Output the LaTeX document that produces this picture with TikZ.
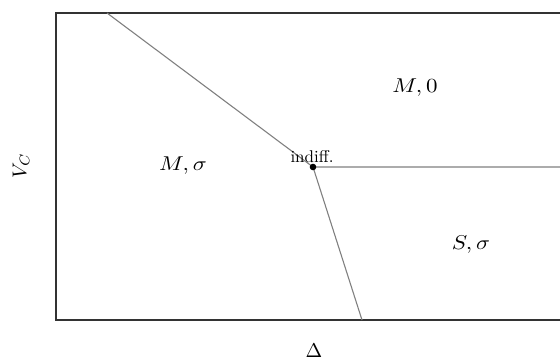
\documentclass[tikz,border=0pt]{standalone}
\begin{document}
\begin{tikzpicture}[x=1pt,y=1pt,
  frame/.style={draw=black!80,line width=1.6pt},
  boundary/.style={draw=black!50,line width=1.1pt},
  region/.style={xscale=2.3,yscale=2.0},
  axislabel/.style={scale=2.0},
  small/.style={scale=1.7}]
\useasboundingbox (0,0) rectangle (560,361);
\begin{scope}
\clip (0,0) rectangle (560,361);
\draw[frame] (600,348) -- (56,348) -- (56,41) -- (600,41);
\end{scope}
\coordinate (P) at (313,194);
\coordinate (T) at (107,348);
\coordinate (R) at (560,194);
\coordinate (B) at (362,41);
\draw[boundary] (T) -- (P) -- (R);
\draw[boundary] (P) -- (B);
\fill (P) circle (3.3);
\node[small,anchor=base] (ind) at (312,198.5) {indiff.};
\node[region] (m0) at (415,273) {$M,0$};
\node[region] (ms) at (183,195) {$M,\sigma$};
\node[region] (ss) at (471,116) {$S,\sigma$};
\node[axislabel] (dx) at (314,10) {$\Delta$};
\node[axislabel,rotate=90] (vc) at (21,195) {$V_C$};
\end{tikzpicture}
\end{document}
